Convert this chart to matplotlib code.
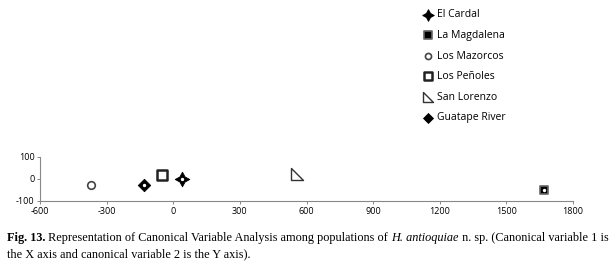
import numpy as np
import matplotlib.pyplot as plt
from matplotlib.path import Path

# canonical variable scores
populations = ['El Cardal', 'La Magdalena', 'Los Mazorcos', 'Los Peñoles', 'San Lorenzo', 'Guatape River']
cv1 = [40, 1670, -370, -50, 555, -130]
cv2 = [0, -50, -25, 17, 23, -25]

x_ticks = [-600, -300, 0, 300, 600, 900, 1200, 1500, 1800]
y_ticks = [-100, 0, 100]

plt.rcParams['font.family'] = ['Open Sans', 'DejaVu Sans']
plt.rcParams['axes.unicode_minus'] = False

# right triangle marker (vertical left side, diagonal to bottom right)
tri = Path([(-1, 1), (-1, -1), (1, -1), (-1, 1)],
           [Path.MOVETO, Path.LINETO, Path.LINETO, Path.CLOSEPOLY])

styles = [
    dict(marker=(4, 1, 0), s=110, c='black', edgecolors='black', linewidths=0.6),
    dict(marker='s', s=40, c='black', edgecolors='#666666', linewidths=1.2),
    dict(marker='o', s=30, c='white', edgecolors='#444444', linewidths=1.2),
    dict(marker='s', s=45, c='white', edgecolors='#222222', linewidths=1.8),
    dict(marker=tri, s=70, c='white', edgecolors='#333333', linewidths=1.0),
    dict(marker='D', s=40, c='black', edgecolors='black', linewidths=0.6),
]

fig = plt.figure(figsize=(6.13, 2.72), dpi=100)
ax = fig.add_axes([40 / 613, 1 - 201 / 272, 533 / 613, 44 / 272])

for i, name in enumerate(populations):
    ax.scatter(cv1[i], cv2[i], label=name, zorder=3, **styles[i])
    # small white dot in the centre of the filled markers
    if i in (0, 1, 5):
        ax.scatter(cv1[i], cv2[i], marker='o', s=2, c='white', zorder=4)

ax.set_xlim(-600, 1800)
ax.set_ylim(-100, 100)
ax.set_xticks(x_ticks)
ax.set_yticks(y_ticks)
ax.tick_params(labelsize=6.5, length=2.5, width=0.7, color='#888888', pad=1.5)
for side in ['top', 'right']:
    ax.spines[side].set_visible(False)
for side in ['left', 'bottom']:
    ax.spines[side].set_color('#888888')
    ax.spines[side].set_linewidth(0.8)

leg = fig.legend(loc='upper left', bbox_to_anchor=(412 / 613, 1), frameon=False,
                 fontsize=7.5, labelspacing=0.92, handletextpad=0.3, handlelength=1.2,
                 scatterpoints=1, markerscale=0.8)

# caption, serif, with bold figure number and italic species name
cap_size = 8.85
pieces = [('Fig. 13.', 'normal', 'bold'),
          (' Representation of Canonical Variable Analysis among populations of ', 'normal', 'normal'),
          ('H. antioquiae', 'italic', 'normal'),
          (' n. sp. (Canonical variable 1 is', 'normal', 'normal')]
renderer = fig.canvas.get_renderer()
x = 7 / 613
y = 1 - 241 / 272
for s, st, wt in pieces:
    t = fig.text(x, y, s, fontsize=cap_size, family='Liberation Serif', style=st, weight=wt,
                 va='baseline')
    bb = t.get_window_extent(renderer)
    x += bb.width / fig.bbox.width
fig.text(7 / 613, 1 - 257 / 272, 'the X axis and canonical variable 2 is the Y axis).',
         fontsize=cap_size, family='Liberation Serif', va='baseline')

fig.savefig('out.png', dpi=100)
